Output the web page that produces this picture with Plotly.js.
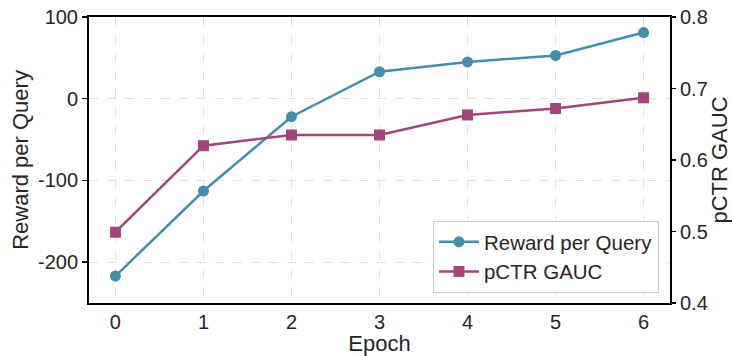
<!DOCTYPE html>
<html>
<head>
<meta charset="utf-8">
<script src="https://cdn.plot.ly/plotly-3.0.1.min.js"></script>
<style>html,body{margin:0;padding:0;background:#fff;}#chart{width:732px;height:356px;}</style>
</head>
<body>
<div id="chart"></div>
<script>
const epochs = [0, 1, 2, 3, 4, 5, 6];
const rewardPerQuery = [-217, -113, -22, 33, 45, 53, 81];
const pctrGauc = [0.499, 0.620, 0.635, 0.635, 0.663, 0.672, 0.687];
const rewardTicks = [-200, -100, 0, 100];
const rewardTickText = ['-200', '-100', '0', '100'];
const gaucTicks = [0.4, 0.5, 0.6, 0.7, 0.8];
const gaucTickText = ['0.4', '0.5', '0.6', '0.7', '0.8'];

const blue = '#3F8FAF';
const magenta = '#A4447B';
const font = 'Liberation Sans, Arial, sans-serif';
const txt = '#262626';

const traces = [
  {
    x: epochs, y: rewardPerQuery, name: 'Reward per Query', yaxis: 'y',
    mode: 'lines+markers', type: 'scatter',
    line: {color: blue, width: 2.5},
    marker: {color: blue, size: 11, symbol: 'circle'}
  },
  {
    x: epochs, y: pctrGauc, name: 'pCTR GAUC', yaxis: 'y2',
    mode: 'lines+markers', type: 'scatter',
    line: {color: magenta, width: 2.5},
    marker: {color: magenta, size: 11, symbol: 'square'}
  }
];

const layout = {
  width: 732, height: 356,
  margin: {l: 89, r: 62, t: 17, b: 53},
  paper_bgcolor: '#fff', plot_bgcolor: '#fff',
  font: {family: font, color: txt, size: 20},
  showlegend: true,
  xaxis: {
    range: [-0.3, 6.3], tickvals: epochs, ticktext: epochs.map(String),
    showgrid: true, gridcolor: '#e0e0e0', griddash: 'dash', gridwidth: 1,
    zeroline: false, showline: true, linecolor: '#000', linewidth: 2, mirror: true,
    ticks: '', tickfont: {size: 20, family: font, color: txt},
    title: {text: 'Epoch', font: {size: 22, family: font, color: txt}, standoff: 4}
  },
  yaxis: {
    range: [-250, 100], tickvals: rewardTicks, ticktext: rewardTickText,
    showgrid: true, gridcolor: '#e0e0e0', griddash: 'dash', gridwidth: 1,
    zeroline: false, showline: true, linecolor: '#000', linewidth: 2, mirror: true,
    ticks: 'outside', ticklen: 5, tickwidth: 1.5, tickcolor: '#000',
    tickfont: {size: 20, family: font, color: txt},
    title: {text: 'Reward per Query', font: {size: 22, family: font, color: txt}, standoff: 3}
  },
  yaxis2: {
    overlaying: 'y', side: 'right',
    range: [0.4, 0.8], tickvals: gaucTicks, ticktext: gaucTickText,
    showgrid: false, zeroline: false, showline: false,
    ticks: 'outside', ticklen: 5, tickwidth: 1.5, tickcolor: '#000',
    tickfont: {size: 20, family: font, color: txt},
    title: {text: 'pCTR GAUC', font: {size: 22, family: font, color: txt}, standoff: 1}
  },
  legend: {
    x: 0.981, y: 0.035, xanchor: 'right', yanchor: 'bottom',
    bgcolor: '#fff', bordercolor: '#cccccc', borderwidth: 1,
    font: {size: 20.5, family: font, color: txt},
    itemwidth: 40, tracegroupgap: 0
  }
};

Plotly.newPlot('chart', traces, layout, {displayModeBar: false, staticPlot: true});
</script>
</body>
</html>
